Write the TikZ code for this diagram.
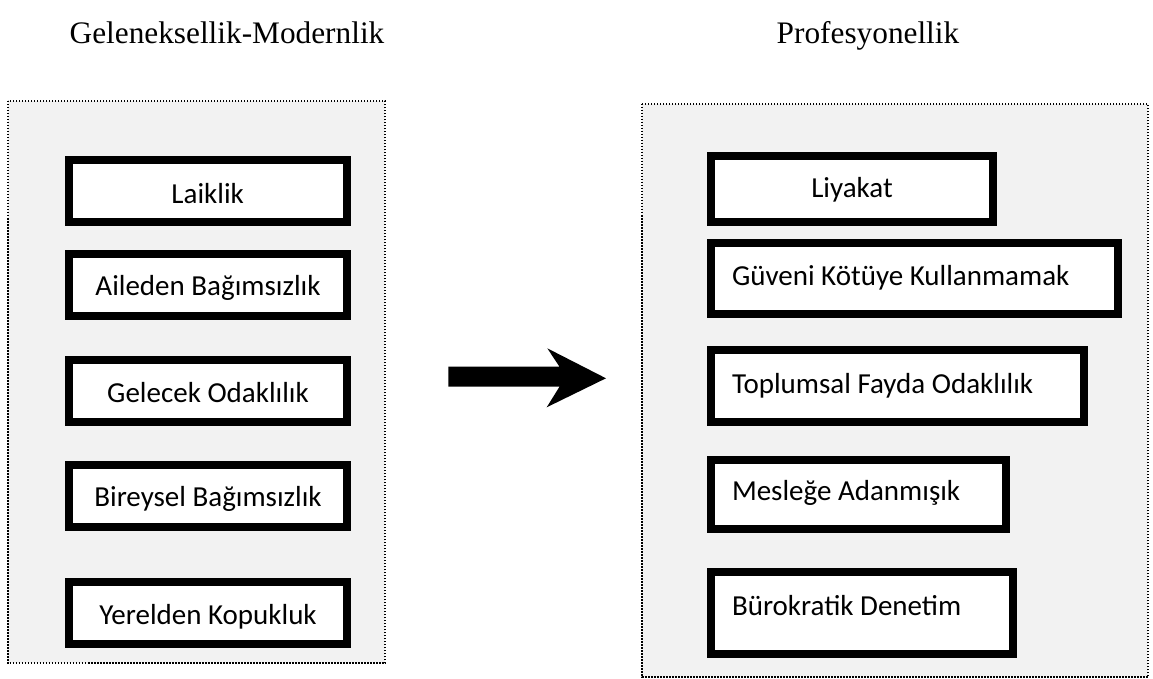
\documentclass[tikz,border=0pt]{standalone}
\usepackage{fontspec}
\setmainfont{Liberation Serif}
\newfontfamily\boxfont{Carlito}
\newfontfamily\headfont{Liberation Serif}
\begin{document}
\begin{tikzpicture}[x=1bp,y=-1bp,
  panel/.style={fill=black!5, draw=black, line width=1.6bp,
    dash pattern=on 1.5bp off 1.5bp},
  itembox/.style={draw=black, fill=white, line width=8bp, inner sep=0pt,
    anchor=north west, font=\boxfont\fontsize{29bp}{34bp}\selectfont,
    text height=30bp},
  leftitem/.style={itembox, align=flush left, inner xsep=21bp},
  heading/.style={font=\headfont\fontsize{31.3bp}{36bp}\selectfont, anchor=base, inner sep=0pt}]
  \useasboundingbox[fill=white] (0,0) rectangle (1153,679);

  % headings
  \node[heading] (hleft) at (227,44) {Geleneksellik-Modernlik};
  \node[heading] (hright) at (868,44) {Profesyonellik};

  % dotted grey panels
  \path[panel] (8,101) rectangle (385,663);
  \path[panel] (642,104) rectangle (1148,677);

  % left column
  \node[itembox, minimum width=278bp, minimum height=62bp, text depth=6bp]
    (laik) at (64.7,156.3) {Laiklik};
  \node[itembox, minimum width=278bp, minimum height=62bp, text depth=8.6bp]
    (aile) at (65,250) {Aileden Bağımsızlık};
  \node[itembox, minimum width=278bp, minimum height=62bp, text depth=8bp]
    (gelecek) at (65,356.3) {Gelecek Odaklılık};
  \node[itembox, minimum width=278bp, minimum height=62bp, text depth=8bp]
    (bireysel) at (65,460.7) {Bireysel Bağımsızlık};
  \node[itembox, minimum width=278bp, minimum height=62bp, text depth=8bp]
    (yerel) at (65,578) {Yerelden Kopukluk};

  % right column
  \node[itembox, minimum width=282bp, minimum height=65.4bp, text depth=14bp]
    (liyakat) at (707,152.3) {Liyakat};
  \node[leftitem, text width=365bp, minimum height=71bp, text depth=16bp]
    (guven) at (707,239) {Güveni Kötüye Kullanmamak};
  \node[leftitem, text width=331bp, minimum height=72bp, text depth=16bp]
    (fayda) at (707,346.3) {Toplumsal Fayda Odaklılık};
  \node[leftitem, text width=253bp, minimum height=69.3bp, text depth=17.2bp]
    (meslek) at (707,455.7) {Mesleğe Adanmışık};
  \node[leftitem, text width=260bp, minimum height=81.7bp, text depth=25bp]
    (denetim) at (707,568.3) {Bürokratik Denetim};

  % block arrow between the panels
  \coordinate (tailtop) at (448.3,366.7);
  \coordinate (tailbot) at (448.3,386.7);
  \coordinate (tip) at (606,378.3);
  \fill[black] (tailtop) -- (559.5,366.7) -- (547.3,348.3) -- (tip)
    -- (546.7,407.3) -- (559.5,386.7) -- (tailbot) -- cycle;
\end{tikzpicture}
\end{document}
